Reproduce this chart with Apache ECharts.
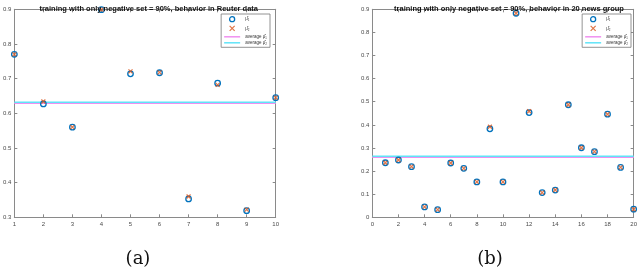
<!DOCTYPE html>
<html><head><meta charset="utf-8">
<script src="https://cdn.jsdelivr.net/npm/echarts@6/dist/echarts.min.js"></script>
<style>html,body{margin:0;padding:0;background:#fff}#c{width:640px;height:274px}</style>
</head><body><div id="c"></div>
<script>
// ---- Data: (a) Reuter data ----
const reuterX = [1,2,3,4,5,6,7,8,9,10];
const reuterMu1 = [0.770,0.627,0.560,0.899,0.714,0.717,0.353,0.687,0.319,0.645];
const reuterMu2 = [0.770,0.634,0.560,0.899,0.721,0.718,0.360,0.682,0.322,0.645];
const reuterAvg1 = 0.629;
const reuterAvg2 = 0.632;
const reuterXRange = [1,10];
const reuterYRange = [0.3,0.9];

// ---- Data: (b) 20 news group ----
const newsX = [1,2,3,4,5,6,7,8,9,10,11,12,13,14,15,16,17,18,19,20];
const newsMu1 = [0.236,0.248,0.219,0.045,0.033,0.235,0.212,0.153,0.383,0.153,0.883,0.453,0.107,0.118,0.487,0.301,0.284,0.446,0.216,0.035];
const newsMu2 = [0.236,0.248,0.219,0.045,0.033,0.235,0.212,0.153,0.392,0.153,0.883,0.459,0.107,0.118,0.487,0.301,0.284,0.446,0.216,0.035];
const newsAvg1 = 0.260;
const newsAvg2 = 0.264;
const newsXRange = [0,20];
const newsYRange = [0,0.9];

const titles = ['training with only negative set = 90%, behavior in Reuter data',
                'training with only negative set = 90%, behavior in 20 news group'];
const captions = ['(a)','(b)'];
const legendNames = ['μ̂₁','μ̂₂','average μ̂₁','average μ̂₂'];

const C_BLUE='#0072BD', C_ORANGE='#D95319', C_MAG='#f090f0', C_CYAN='#60e4f8';
const AX='#8a8a8a', LBL='#4a4a4a';

const chart = echarts.init(document.getElementById('c'), null, {renderer:'canvas'});

const grids = [
  {left:11.7, top:9.3, width:264, height:208},
  {left:372.3, top:9.3, width:263.7, height:208}
];

function zipXY(xs, ys){ return xs.map((x,i)=>[x, ys[i]]); }

const xAxes=[], yAxes=[], series=[];
const sets = [
  {xs:reuterX, m1:reuterMu1, m2:reuterMu2, a1:reuterAvg1, a2:reuterAvg2, xr:reuterXRange, yr:reuterYRange, xi:1},
  {xs:newsX, m1:newsMu1, m2:newsMu2, a1:newsAvg1, a2:newsAvg2, xr:newsXRange, yr:newsYRange, xi:2}
];
sets.forEach((s,g)=>{
  const base = {type:'value', gridIndex:g, min:s.xr[0], max:s.xr[1], interval:s.xi,
    axisLine:{show:true, onZero:false, lineStyle:{color:AX, width:1}},
    axisTick:{show:true, inside:true, length:3, lineStyle:{color:AX}},
    splitLine:{show:false}};
  xAxes.push(Object.assign({}, base, {position:'bottom',
    axisLabel:{show:true, color:LBL, fontSize:6, margin:4, fontFamily:'Liberation Sans'}}));
  xAxes.push(Object.assign({}, base, {position:'top', axisLabel:{show:false}}));
  const ybase = {type:'value', gridIndex:g, min:s.yr[0], max:s.yr[1], interval:0.1,
    axisLine:{show:true, onZero:false, lineStyle:{color:AX, width:1}},
    axisTick:{show:true, inside:true, length:3, lineStyle:{color:AX}},
    splitLine:{show:false}};
  yAxes.push(Object.assign({}, ybase, {position:'left',
    axisLabel:{show:true, color:LBL, fontSize:6, margin:3, fontFamily:'Liberation Sans',
      formatter:v=>String(+v.toFixed(1))}}));
  yAxes.push(Object.assign({}, ybase, {position:'right', axisLabel:{show:false}}));
  const xi = g*2, yi = g*2;
  series.push({name:legendNames[2], type:'line', xAxisIndex:xi, yAxisIndex:yi, symbol:'none',
    lineStyle:{color:C_MAG, width:1.5}, itemStyle:{color:C_MAG}, silent:true,
    data:[[s.xr[0], s.a1],[s.xr[1], s.a1]], z:2});
  series.push({name:legendNames[3], type:'line', xAxisIndex:xi, yAxisIndex:yi, symbol:'none',
    lineStyle:{color:C_CYAN, width:1.5}, itemStyle:{color:C_CYAN}, silent:true,
    data:[[s.xr[0], s.a2],[s.xr[1], s.a2]], z:3});
  series.push({name:legendNames[0], type:'scatter', xAxisIndex:xi, yAxisIndex:yi,
    symbol:'circle', symbolSize:5.5,
    itemStyle:{color:'rgba(255,255,255,0)', borderColor:C_BLUE, borderWidth:1.3, opacity:1},
    data:zipXY(s.xs, s.m1), z:4});
  series.push({name:legendNames[1], type:'scatter', xAxisIndex:xi, yAxisIndex:yi,
    symbol:'path://M0,0 L10,10 M10,0 L0,10', symbolSize:4,
    itemStyle:{color:'none', borderColor:C_ORANGE, borderWidth:1.2},
    data:zipXY(s.xs, s.m2), z:5});
});

const LINE_ICON = 'path://M0,0 H16 V1.5 H0 Z';
const legendData = [
  {name:legendNames[0], icon:'circle', itemStyle:{color:'#fff', borderColor:C_BLUE, borderWidth:1.3}},
  {name:legendNames[1], icon:'path://M0,0 L10,10 M10,0 L0,10', itemStyle:{color:'none', borderColor:C_ORANGE, borderWidth:1.2}},
  {name:legendNames[2], icon:LINE_ICON, itemStyle:{color:C_MAG, borderWidth:0}},
  {name:legendNames[3], icon:LINE_ICON, itemStyle:{color:C_CYAN, borderWidth:0}}
];
const legendCommon = {orient:'vertical', backgroundColor:'#fff', borderColor:'#777', borderWidth:0.8,
  padding:[2,3,2,3], itemGap:1, itemWidth:16, itemHeight:5, data:legendData,
  textStyle:{fontSize:4.5, color:'#333', fontFamily:'Liberation Sans'}, selectedMode:false};

chart.setOption({
  animation:false,
  grid:grids,
  xAxis:xAxes,
  yAxis:yAxes,
  title:[
    {text:titles[0], left:143.7, top:0, textAlign:'center',
     textStyle:{fontSize:7.5, fontWeight:'bold', color:'#111', fontFamily:'Liberation Sans'}},
    {text:titles[1], left:504, top:0, textAlign:'center',
     textStyle:{fontSize:7.5, fontWeight:'bold', color:'#111', fontFamily:'Liberation Sans'}},
    {text:captions[0], left:133, top:245, textAlign:'center',
     textStyle:{fontSize:18, fontWeight:'normal', color:'#111', fontFamily:'DejaVu Serif'}},
    {text:captions[1], left:485, top:245, textAlign:'center',
     textStyle:{fontSize:18, fontWeight:'normal', color:'#111', fontFamily:'DejaVu Serif'}}
  ],
  legend:[
    Object.assign({}, legendCommon, {right:640-270, top:14}),
    Object.assign({}, legendCommon, {right:640-631, top:14})
  ],
  series:series
});
</script></body></html>
